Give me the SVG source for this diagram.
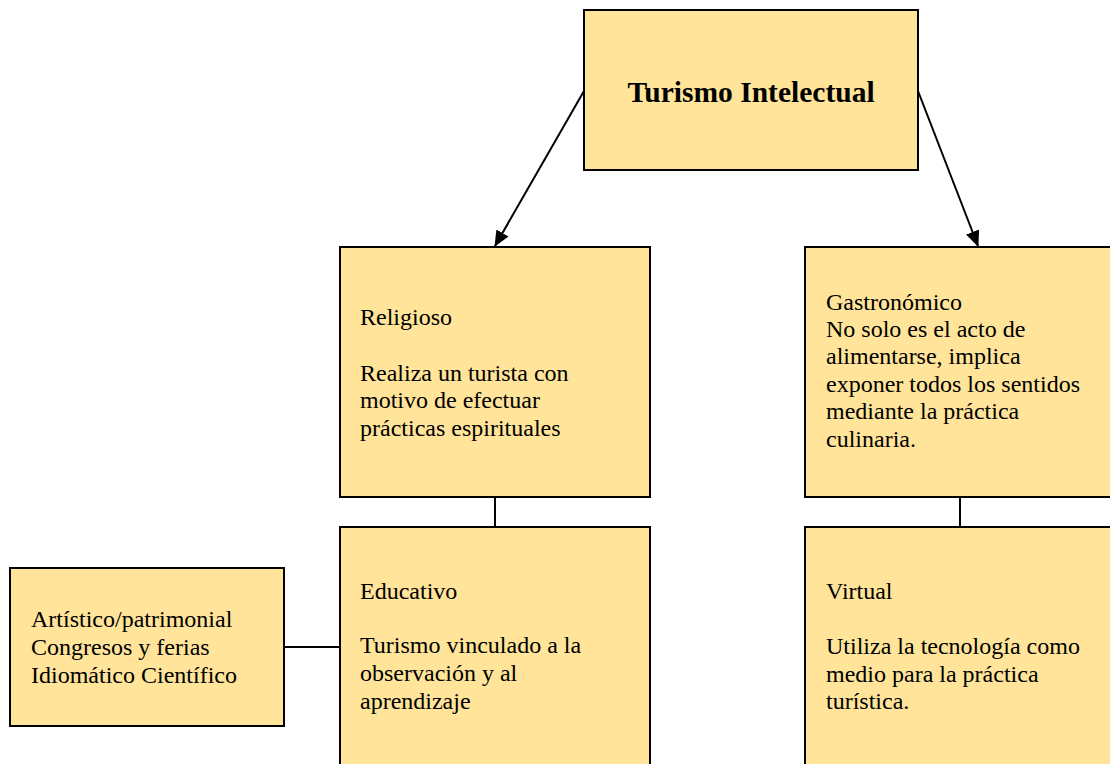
<svg xmlns="http://www.w3.org/2000/svg" width="1110" height="764" viewBox="0 0 1110 764">
<style>
.box{fill:#FFE499;stroke:#000;stroke-width:2}
.t{font-family:"Liberation Serif","Times New Roman",serif;font-size:24px;fill:#000}
.title{font-family:"Liberation Serif","Times New Roman",serif;font-size:29.5px;font-weight:bold;fill:#000}
.c{stroke:#000;stroke-width:2;fill:none}
</style>
<defs>
<marker id="ah" markerWidth="16" markerHeight="14" refX="15" refY="7" orient="auto" markerUnits="userSpaceOnUse" viewBox="0 0 16 14">
<path d="M0,0 L16,7 L0,14 z" fill="#000"/>
</marker>
</defs>
<rect width="1110" height="764" fill="#fff"/>
<g id="connectors">
<line class="c" x1="584" y1="91" x2="495" y2="246" marker-end="url(#ah)"/>
<line class="c" x1="918" y1="91" x2="978" y2="246" marker-end="url(#ah)"/>
<line class="c" x1="495" y1="497" x2="495" y2="527"/>
<line class="c" x1="960" y1="497" x2="960" y2="527"/>
<line class="c" x1="284" y1="647" x2="340" y2="647"/>
</g>
<g id="n-title">
<rect class="box" x="584" y="10" width="334" height="160"/>
<text class="title" x="751" y="102" text-anchor="middle">Turismo Intelectual</text>
</g>
<g id="n-religioso">
<rect class="box" x="340" y="247" width="310" height="250"/>
<text class="t" x="360" y="325">Religioso</text>
<text class="t" x="360" y="381">Realiza un turista con</text>
<text class="t" x="360" y="408">motivo de efectuar</text>
<text class="t" x="360" y="436">prácticas espirituales</text>
</g>
<g id="n-gastronomico">
<rect class="box" x="805" y="247" width="320" height="250"/>
<text class="t" x="826" y="310">Gastronómico</text>
<text class="t" x="826" y="337">No solo es el acto de</text>
<text class="t" x="826" y="364">alimentarse, implica</text>
<text class="t" x="826" y="392">exponer todos los sentidos</text>
<text class="t" x="826" y="419">mediante la práctica</text>
<text class="t" x="826" y="447">culinaria.</text>
</g>
<g id="n-educativo">
<rect class="box" x="340" y="527" width="310" height="260"/>
<text class="t" x="360" y="599">Educativo</text>
<text class="t" x="360" y="653">Turismo vinculado a la</text>
<text class="t" x="360" y="681">observación y al</text>
<text class="t" x="360" y="709">aprendizaje</text>
</g>
<g id="n-virtual">
<rect class="box" x="805" y="527" width="320" height="260"/>
<text class="t" x="826" y="599">Virtual</text>
<text class="t" x="826" y="654">Utiliza la tecnología como</text>
<text class="t" x="826" y="682">medio para la práctica</text>
<text class="t" x="826" y="709">turística.</text>
</g>
<g id="n-artistico">
<rect class="box" x="10" y="568" width="274" height="158"/>
<text class="t" x="31" y="627">Artístico/patrimonial</text>
<text class="t" x="31" y="655">Congresos y ferias</text>
<text class="t" x="31" y="683">Idiomático Científico</text>
</g>
</svg>
